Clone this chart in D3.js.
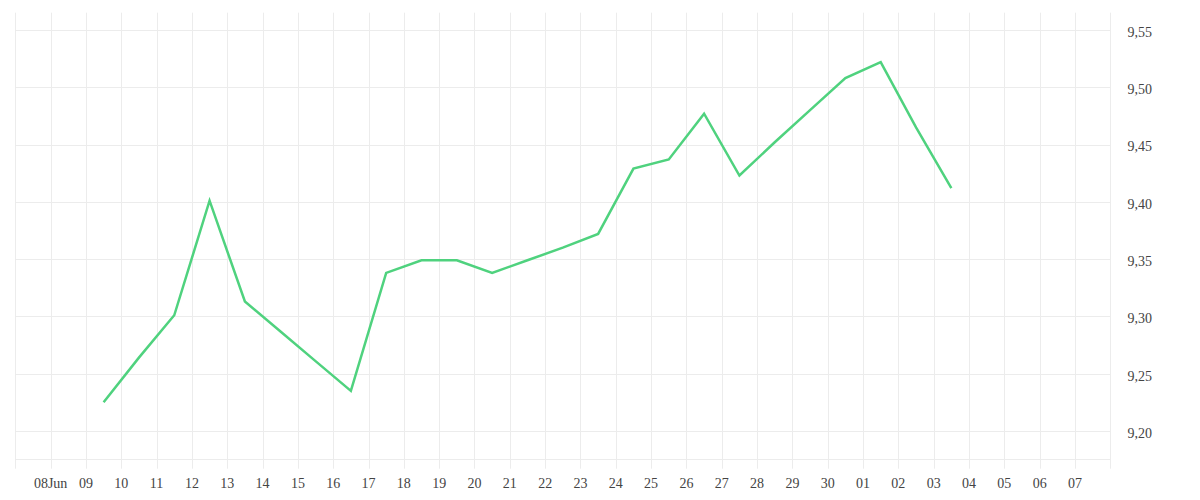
<!DOCTYPE html>
<html>
<head>
<meta charset="utf-8">
<script src="https://cdn.jsdelivr.net/npm/d3@7/dist/d3.min.js"></script>
<style>
  html, body { margin: 0; padding: 0; background: #fff; }
  svg { display: block; }
  text { font-family: "Liberation Serif", "DejaVu Serif", serif; font-size: 14px; fill: #444; }
</style>
</head>
<body>
<svg id="chart" width="1200" height="500"></svg>
<script>
// ---- data ----
const dates = [
  "2024-06-09T12:00", "2024-06-10T12:00", "2024-06-11T12:00", "2024-06-12T12:00",
  "2024-06-13T12:00", "2024-06-14T12:00", "2024-06-15T12:00", "2024-06-16T12:00",
  "2024-06-17T12:00", "2024-06-18T12:00", "2024-06-19T12:00", "2024-06-20T12:00",
  "2024-06-21T12:00", "2024-06-22T12:00", "2024-06-23T12:00", "2024-06-24T12:00",
  "2024-06-25T12:00", "2024-06-26T12:00", "2024-06-27T12:00", "2024-06-28T12:00",
  "2024-06-29T12:00", "2024-06-30T12:00", "2024-07-01T12:00", "2024-07-02T12:00",
  "2024-07-03T12:00"
];
const values = [
  9.225, 9.264, 9.301, 9.401, 9.313, 9.287, 9.261, 9.235,
  9.338, 9.349, 9.349, 9.338, 9.349, 9.360, 9.372, 9.429,
  9.437, 9.477, 9.423, 9.452, 9.480, 9.508, 9.522, 9.465,
  9.412
];
const xDomain = ["2024-06-07", "2024-07-08"];
const xTickDates = [
  "2024-06-08","2024-06-09","2024-06-10","2024-06-11","2024-06-12","2024-06-13",
  "2024-06-14","2024-06-15","2024-06-16","2024-06-17","2024-06-18","2024-06-19",
  "2024-06-20","2024-06-21","2024-06-22","2024-06-23","2024-06-24","2024-06-25",
  "2024-06-26","2024-06-27","2024-06-28","2024-06-29","2024-06-30","2024-07-01",
  "2024-07-02","2024-07-03","2024-07-04","2024-07-05","2024-07-06","2024-07-07"
];
const xTickLabels = [
  "08Jun","09","10","11","12","13","14","15","16","17","18","19","20","21","22",
  "23","24","25","26","27","28","29","30","01","02","03","04","05","06","07"
];
const yDomain = [9.1758, 9.5651];
const yTicks = [9.20, 9.25, 9.30, 9.35, 9.40, 9.45, 9.50, 9.55];
const yTickLabels = ["9,20","9,25","9,30","9,35","9,40","9,45","9,50","9,55"];

// ---- layout ----
const plotLeft = 15.3, plotRight = 1110.3, plotTop = 12.7, plotBottom = 458.7;
const gridColor = "#ececec";
const lineColor = "#4fd27e";

const parse = d3.timeParse("%Y-%m-%dT%H:%M");
const parseDay = d3.timeParse("%Y-%m-%d");
const data = dates.map((d, i) => ({ date: parse(d), value: values[i] }));

const x = d3.scaleTime().domain(xDomain.map(parseDay)).range([plotLeft, plotRight]);
const y = d3.scaleLinear().domain(yDomain).range([plotBottom, plotTop]);

const svg = d3.select("#chart");

// vertical grid lines (all days incl. domain start)
const gridDays = [xDomain[0]].concat(xTickDates).map(parseDay);
svg.append("g")
  .selectAll("line")
  .data(gridDays)
  .join("line")
  .attr("x1", d => Math.round(x(d)) + 0.5)
  .attr("x2", d => Math.round(x(d)) + 0.5)
  .attr("y1", plotTop)
  .attr("y2", plotBottom + 10)
  .attr("stroke", gridColor)
  .attr("stroke-width", 1);

// horizontal grid lines
svg.append("g")
  .selectAll("line")
  .data(yTicks)
  .join("line")
  .attr("x1", plotLeft)
  .attr("x2", plotRight)
  .attr("y1", d => Math.round(y(d)) + 0.5)
  .attr("y2", d => Math.round(y(d)) + 0.5)
  .attr("stroke", gridColor);

// bottom axis line
svg.append("line")
  .attr("x1", plotLeft).attr("x2", plotRight)
  .attr("y1", Math.round(plotBottom) + 0.5).attr("y2", Math.round(plotBottom) + 0.5)
  .attr("stroke", gridColor);

// right axis line
svg.append("line")
  .attr("x1", Math.round(plotRight) + 0.5).attr("x2", Math.round(plotRight) + 0.5)
  .attr("y1", plotTop).attr("y2", plotBottom + 10)
  .attr("stroke", gridColor);

// x tick labels
svg.append("g")
  .selectAll("text")
  .data(xTickDates)
  .join("text")
  .attr("x", d => x(parseDay(d)))
  .attr("y", 488)
  .attr("text-anchor", "middle")
  .text((d, i) => xTickLabels[i]);

// y tick labels
svg.append("g")
  .selectAll("text")
  .data(yTicks)
  .join("text")
  .attr("x", 1127.5)
  .attr("y", d => y(d) + 2)
  .attr("dy", "0.35em")
  .attr("text-anchor", "start")
  .text((d, i) => yTickLabels[i]);

// line
const line = d3.line().x(d => x(d.date)).y(d => y(d.value));
svg.append("path")
  .datum(data)
  .attr("fill", "none")
  .attr("stroke", lineColor)
  .attr("stroke-width", 2.5)
  .attr("stroke-linejoin", "miter")
  .attr("d", line);
</script>
</body>
</html>
